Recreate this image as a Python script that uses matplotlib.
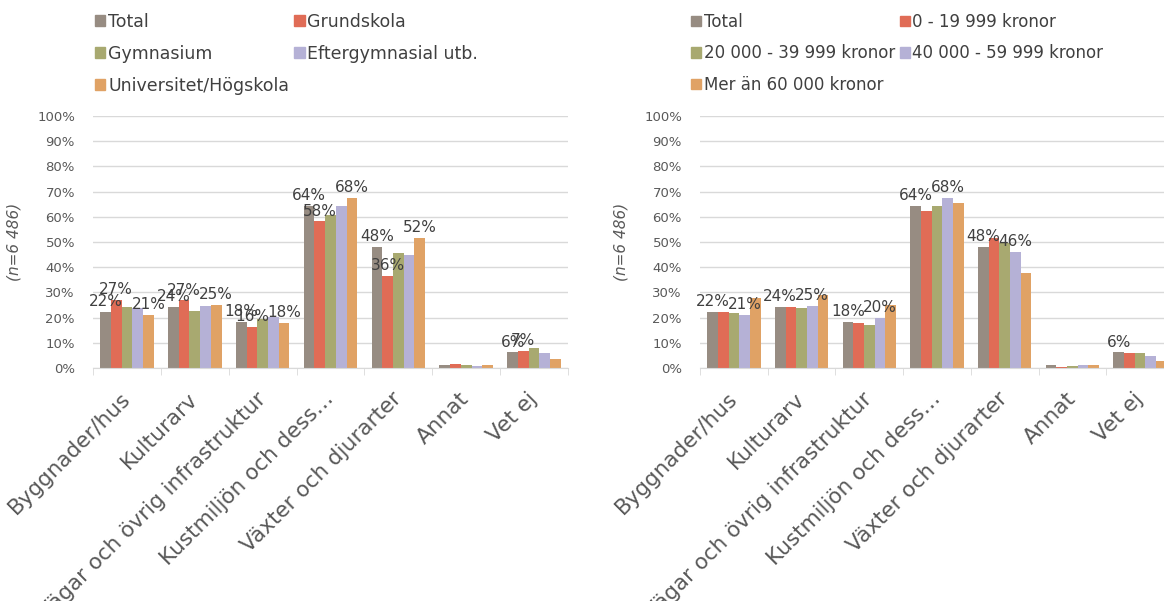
import numpy as np
import matplotlib.pyplot as plt
from matplotlib.patches import Patch

plt.rcParams['font.family'] = ['DejaVu Sans']

categories = ["Byggnader/hus", "Kulturarv", "Vägar och övrig infrastruktur",
              "Kustmiljön och dess…", "Växter och djurarter", "Annat", "Vet ej"]

# utbildning (left)
edu_names = ["Total", "Grundskola", "Gymnasium", "Eftergymnasial utb.", "Universitet/Högskola"]
edu_total = [22.3, 24.3, 18.4, 64.2, 48.2, 1.0, 6.2]
edu_grund = [27.0, 26.8, 16.4, 58.2, 36.4, 1.4, 6.8]
edu_gym = [24.3, 22.7, 19.5, 60.6, 45.7, 1.0, 7.8]
edu_efter = [23.8, 24.7, 20.3, 64.2, 44.7, 0.6, 6.0]
edu_univ = [21.0, 25.1, 18.0, 67.6, 51.6, 1.0, 3.6]
edu_labeled = [0, 1, 4]

# inkomst (right)
inc_names = ["Total", "0 - 19 999 kronor", "20 000 - 39 999 kronor",
             "40 000 - 59 999 kronor", "Mer än 60 000 kronor"]
inc_total = [22.3, 24.3, 18.4, 64.2, 48.2, 1.0, 6.2]
inc_low = [22.3, 24.2, 18.0, 62.4, 51.6, 0.5, 6.0]
inc_mid = [21.7, 23.8, 17.2, 64.4, 49.5, 0.8, 6.0]
inc_high = [21.0, 24.7, 19.9, 67.6, 46.0, 1.2, 4.8]
inc_top = [27.9, 29.1, 25.1, 65.4, 37.6, 1.2, 2.8]
inc_labeled = [0, 3]

colors = ["#978c82", "#e06c56", "#a8a970", "#b5b1d6", "#e0a265"]
txt = "#404040"
grid_c = "#d9d9d9"

fig = plt.figure(figsize=(11.64, 6.01), dpi=100)
W, H = 1164, 601


def draw(ax, series, names, labeled, legend_x, legend_fs):
    x = np.arange(len(categories))
    w = 0.158
    for i, vals in enumerate(series):
        pos = x + (i - 2) * w
        ax.bar(pos, vals, width=w, color=colors[i], zorder=2)
        if i in labeled:
            for p, v in zip(pos, vals):
                if v >= 5:
                    ax.annotate(f"{round(v):.0f}%", (p, v), xytext=(0, 2),
                                textcoords="offset points", ha="center", va="bottom",
                                fontsize=11, color=txt, zorder=3)
    ax.set_ylim(0, 100)
    ax.set_xlim(-0.5, len(categories) - 0.5)
    ax.set_yticks(np.arange(0, 101, 10))
    ax.set_yticklabels([f"{t}%" for t in range(0, 101, 10)])
    ax.yaxis.grid(True, color=grid_c, lw=1, zorder=0)
    ax.set_axisbelow(True)
    for s in ["top", "right", "left"]:
        ax.spines[s].set_visible(False)
    ax.spines["bottom"].set_color(grid_c)
    ax.tick_params(axis="y", length=0, labelsize=9.5, labelcolor="#595959", pad=13)
    ax.set_xticks(x)
    ax.set_xticklabels(categories, rotation=45, ha="right", va="center",
                       rotation_mode="anchor", fontsize=15.5, color="#595959")
    ax.tick_params(axis="x", length=0, pad=20)
    ax.set_xticks(np.arange(-0.5, len(categories)), minor=True)
    ax.tick_params(axis="x", which="minor", length=5, color=grid_c)
    ax.set_ylabel("(n=6 486)", fontsize=11, style="italic", color="#595959", labelpad=11)
    handles = [Patch(color=colors[i], label=names[i]) for i in [0, 2, 4, 1, 3]]
    ax.legend(handles=handles, ncol=2, frameon=False, loc="upper left",
              bbox_to_anchor=(legend_x / W, 1 - 13 / H), bbox_transform=fig.transFigure,
              fontsize=legend_fs, handlelength=0.6, handleheight=0.6, handletextpad=0.15,
              columnspacing=0.3, labelspacing=0.8, borderaxespad=0, borderpad=0,
              labelcolor=txt)


ax1 = fig.add_axes([93 / W, 1 - 368 / H, 475 / W, 252 / H])
draw(ax1, [edu_total, edu_grund, edu_gym, edu_efter, edu_univ], edu_names, edu_labeled, 95, 12.5)
ax2 = fig.add_axes([700 / W, 1 - 368 / H, 474 / W, 252 / H])
draw(ax2, [inc_total, inc_low, inc_mid, inc_high, inc_top], inc_names, inc_labeled, 691, 12)

fig.savefig("out.png", dpi=100)
